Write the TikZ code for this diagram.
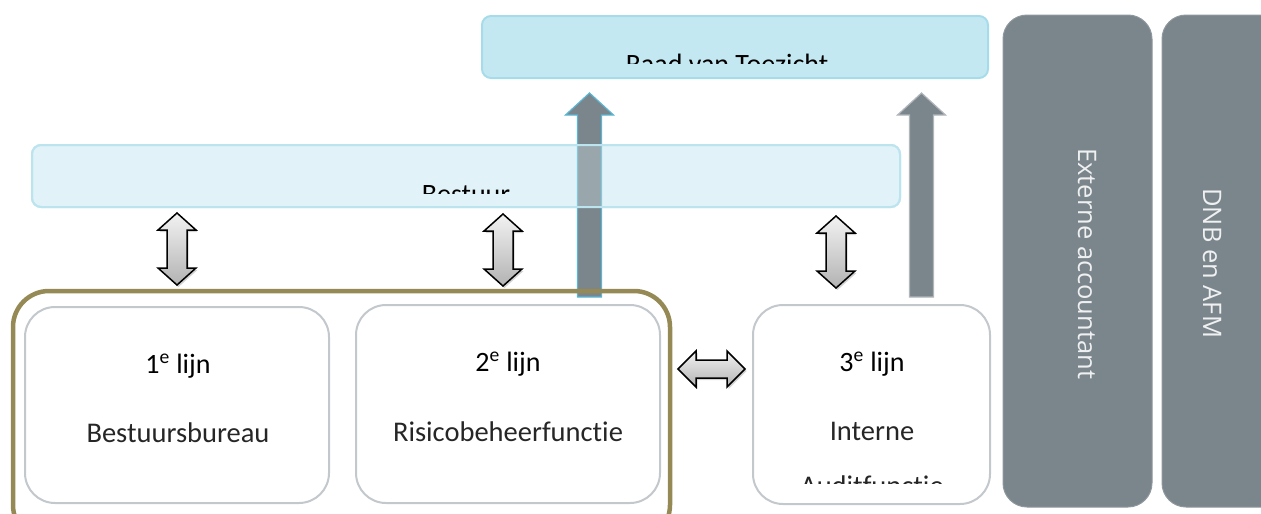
\documentclass[tikz,border=0pt]{standalone}
\usepackage{fontspec}
\setmainfont[Ligatures=NoCommon]{Carlito}
\newfontfamily\zijletter{Open Sans}
\usetikzlibrary{shadows}
\definecolor{raadvul}{HTML}{C4E8F1}
\definecolor{raadrand}{HTML}{A6DCEA}
\definecolor{bestuurvul}{HTML}{E1F3F8}
\definecolor{bestuurrand}{HTML}{BCE4EF}
\definecolor{leigrijs}{HTML}{7B868C}
\definecolor{olijf}{HTML}{958A55}
\definecolor{kaderrand}{HTML}{C3C8CC}
\definecolor{pijlblauw}{HTML}{5AB6D3}
\tikzset{
  blauwbox/.style={rectangle, rounded corners=9pt, line width=2pt, inner sep=0pt},
  lijnbox/.style={rectangle, draw=kaderrand, fill=white, rounded corners=30pt, line width=2pt},
  zijbox/.style={rectangle, fill=leigrijs, draw=leigrijs!85!white, line width=1pt, rounded corners=24pt, minimum height=492},
  kop/.style={anchor=base, font=\fontsize{28}{32}\selectfont},
  tekst/.style={anchor=base, font=\fontsize{28.5}{32}\selectfont, text=black!85},
  zijtekst/.style={anchor=base west, rotate=-90, inner sep=0pt, text=white!88!leigrijs, font=\zijletter\fontsize{25.5}{30}\selectfont},
  dubbelpijl/.style={draw=black, line width=1.5pt, top color=white!95!black, bottom color=black!30,
    drop shadow={shadow xshift=1.5pt, shadow yshift=-2pt, opacity=0.35}},
  blokpijl/.style={fill=leigrijs, line width=1.2pt}
}
\newcommand{\vpijl}[3]{%
  \draw[dubbelpijl] (#1,#2) -- ++(19,17) -- ++(-9,0) -- (#1+10,#3-17) -- ++(9,0) -- (#1,#3)
    -- ++(-19,-17) -- ++(9,0) -- (#1-10,#2+17) -- ++(-9,0) -- cycle;}
\newcommand{\hpijl}[3]{%
  \draw[dubbelpijl] (#2,#1) -- ++(18,-18) -- ++(0,9) -- (#3-18,#1-9) -- ++(0,-9) -- (#3,#1)
    -- ++(-18,18) -- ++(0,-9) -- (#2+18,#1+9) -- ++(0,9) -- cycle;}
\newcommand{\oppijl}[4]{%
  \draw[blokpijl,#4] (#1,#2) -- ++(24,22) -- ++(-12,0) -- (#1+12,#3) -- (#1-12,#3)
    -- (#1-12,#2+22) -- ++(-12,0) -- cycle;}
\begin{document}
\begin{tikzpicture}[x=1pt,y=-1pt]
\useasboundingbox (0,0) rectangle (1261,514);

\node[blauwbox, draw=raadrand, fill=raadvul, minimum width=506, minimum height=62] (raad) at (735,47) {};
\begin{scope}
  \clip (482,16) rectangle (988,63);
  \node[kop] (raadtekst) at (727,73) {Raad van Toezicht};
\end{scope}

\node[blauwbox, draw=bestuurrand, fill=bestuurvul, minimum width=868, minimum height=62] (bestuur) at (466,176) {};
\oppijl{589.5}{93}{297}{draw=pijlblauw}
\oppijl{921.5}{93}{297}{draw=leigrijs!60!white}
\node[blauwbox, draw=bestuurrand, fill=bestuurvul, fill opacity=0.3, minimum width=868, minimum height=62] at (bestuur.center) {};
\begin{scope}
  \clip (32,145) rectangle (900,193);
  \node[kop] (bestuurtekst) at (466,203) {Bestuur};
\end{scope}

\node[rectangle, draw=olijf, line width=4.5pt, rounded corners=36pt, minimum width=657, minimum height=250] (kader) at (341.5,416) {};

\node[lijnbox, minimum width=304, minimum height=196] (lijn1) at (177,405) {};
\node[lijnbox, minimum width=304, minimum height=198] (lijn2) at (508,404) {};
\node[lijnbox, minimum width=237, minimum height=199] (lijn3) at (871.5,404.5) {};

\node[kop] (kop1) at (178,373) {1\textsuperscript{e} lijn};
\node[tekst] (tekst1) at (178,442) {Bestuursbureau};
\node[kop] (kop2) at (508,371) {2\textsuperscript{e} lijn};
\node[tekst] (tekst2) at (508,441) {Risicobeheerfunctie};
\node[kop] (kop3) at (872,371) {3\textsuperscript{e} lijn};
\node[tekst] (tekst3) at (872,440) {Interne};
\begin{scope}
  \clip (753,450) rectangle (990,483);
  \node[tekst] (tekst3b) at (872,495) {Auditfunctie};
\end{scope}

\vpijl{177}{213}{285}
\vpijl{503}{214}{286}
\vpijl{836}{216}{288}
\hpijl{369}{678}{745}

\node[zijbox, minimum width=149] (extern) at (1077.5,261) {};
\node[zijbox, minimum width=130] (toezicht) at (1227,261) {};
\node[zijtekst] (externtekst) at (1078,148) {Externe accountant};
\node[zijtekst] (toezichttekst) at (1203,188) {DNB en AFM};
\end{tikzpicture}
\end{document}
